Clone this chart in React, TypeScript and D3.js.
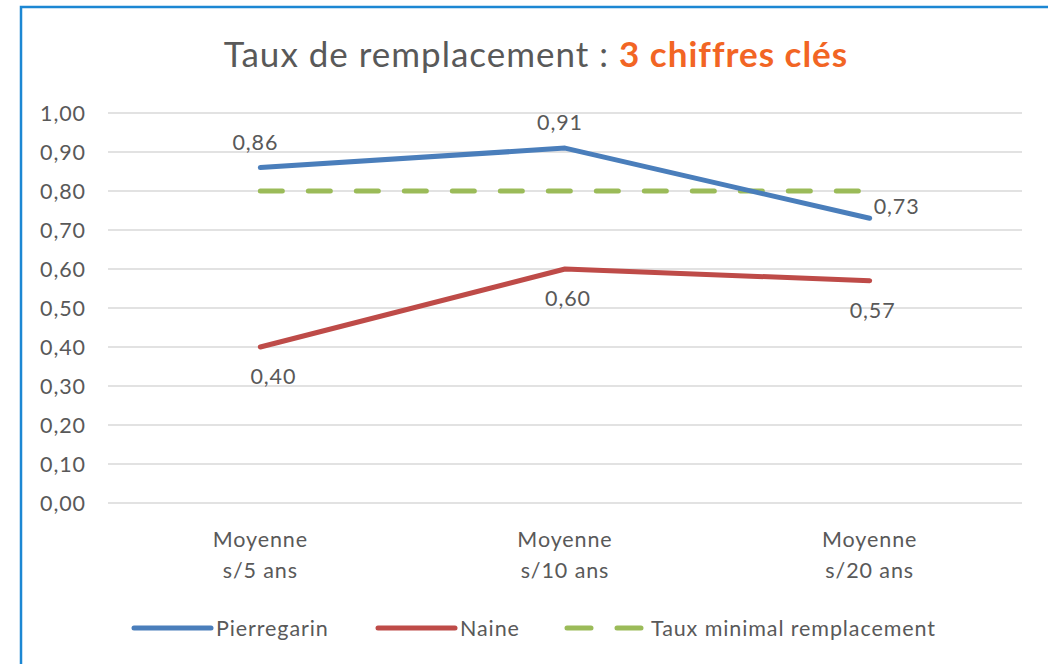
import { useEffect, useRef } from 'react'
import * as d3 from 'd3'

const categories = ['Moyenne\ns/5 ans', 'Moyenne\ns/10 ans', 'Moyenne\ns/20 ans']
const pierregarin = [0.86, 0.91, 0.73]
const naine = [0.4, 0.6, 0.57]
const tauxMinimal = [0.8, 0.8, 0.8]
const yTicks = [0, 0.1, 0.2, 0.3, 0.4, 0.5, 0.6, 0.7, 0.8, 0.9, 1.0]
const seriesNames = ['Pierregarin', 'Naine', 'Taux minimal remplacement']

const FONT = 'Lato, Carlito, Calibri, sans-serif'
const GRAY = '#595959'
const FS = '21.5px'
const LS = '0.9px'

export default function App() {
  const ref = useRef<SVGSVGElement>(null)

  useEffect(() => {
    if (!ref.current) return
    const svg = d3.select(ref.current)
    svg.selectAll('*').remove()

    const W = 1048
    const H = 664
    const margins = { top: 113, right: 26, bottom: 161, left: 108 }

    svg.append('rect').attr('width', W).attr('height', H).attr('fill', '#fff')

    // blue frame (top + left visible)
    svg
      .append('path')
      .attr('d', `M21,${H} V7 H${W}`)
      .attr('fill', 'none')
      .attr('stroke', '#1c87d3')
      .attr('stroke-width', 2.5)

    const x = d3
      .scaleBand<string>()
      .domain(categories)
      .range([margins.left, W - margins.right])
    const y = d3
      .scaleLinear()
      .domain([0, 1])
      .range([H - margins.bottom, margins.top])
    const cx = (i: number) => (x(categories[i]) ?? 0) + x.bandwidth() / 2

    // title
    const title = svg
      .append('text')
      .attr('x', 536)
      .attr('y', 67)
      .attr('text-anchor', 'middle')
      .style('font-family', FONT)
      .style('font-size', '35px')
      .style('letter-spacing', '1px')
    title.append('tspan').attr('fill', GRAY).text('Taux de remplacement  : ')
    title
      .append('tspan')
      .attr('fill', '#f26524')
      .attr('font-weight', 'bold')
      .text('3 chiffres clés')

    // gridlines
    svg
      .append('g')
      .selectAll('line')
      .data(yTicks)
      .enter()
      .append('line')
      .attr('x1', margins.left)
      .attr('x2', W - margins.right)
      .attr('y1', (d) => y(d))
      .attr('y2', (d) => y(d))
      .attr('stroke', '#d9d9d9')
      .attr('stroke-width', 1.5)

    const fmt = (v: number) => d3.format('.2f')(v).replace('.', ',')

    // y labels
    svg
      .append('g')
      .selectAll('text')
      .data(yTicks)
      .enter()
      .append('text')
      .attr('x', 86)
      .attr('y', (d) => y(d))
      .attr('dy', '0.35em')
      .attr('text-anchor', 'end')
      .attr('fill', GRAY)
      .style('font-family', FONT)
      .style('font-size', FS)
      .style('letter-spacing', LS)
      .text((d) => fmt(d))

    // x labels
    const xl = svg
      .append('g')
      .selectAll('text')
      .data(categories)
      .enter()
      .append('text')
      .attr('text-anchor', 'middle')
      .attr('fill', GRAY)
      .style('font-family', FONT)
      .style('font-size', FS)
      .style('letter-spacing', LS)
    xl.each(function (d) {
      const t = d3.select(this)
      d.split('\n').forEach((line, k) => {
        t.append('tspan')
          .attr('x', (x(d) ?? 0) + x.bandwidth() / 2)
          .attr('y', 547 + k * 31)
          .text(line)
      })
    })

    const line = d3
      .line<number>()
      .x((_, i) => cx(i))
      .y((d) => y(d))

    svg
      .append('path')
      .datum(tauxMinimal)
      .attr('d', line)
      .attr('fill', 'none')
      .attr('stroke', '#9bbb59')
      .attr('stroke-width', 5)
      .attr('stroke-linecap', 'round')
      .attr('stroke-dasharray', '22 26')

    svg
      .append('path')
      .datum(pierregarin)
      .attr('d', line)
      .attr('fill', 'none')
      .attr('stroke', '#4a7ebb')
      .attr('stroke-width', 5)
      .attr('stroke-linecap', 'round')
      .attr('stroke-linejoin', 'round')

    svg
      .append('path')
      .datum(naine)
      .attr('d', line)
      .attr('fill', 'none')
      .attr('stroke', '#be4b48')
      .attr('stroke-width', 5)
      .attr('stroke-linecap', 'round')
      .attr('stroke-linejoin', 'round')

    const labelStyle = (s: d3.Selection<SVGTextElement, number, SVGGElement, unknown>) =>
      s
        .attr('fill', GRAY)
        .style('font-family', FONT)
        .style('font-size', FS)
        .style('letter-spacing', LS)
        .text((d) => fmt(d))

    // Pierregarin labels: above, last one right
    svg
      .append('g')
      .selectAll('text')
      .data(pierregarin)
      .enter()
      .append('text')
      .attr('x', (_, i) => (i === 2 ? cx(i) + 4 : cx(i) - 5))
      .attr('y', (d, i) => (i === 2 ? y(d) - 4 : y(d) - 18))
      .attr('text-anchor', (_, i) => (i === 2 ? 'start' : 'middle'))
      .call(labelStyle)

    // Naine labels: below
    svg
      .append('g')
      .selectAll('text')
      .data(naine)
      .enter()
      .append('text')
      .attr('x', (_, i) => cx(i) + (i === 0 ? 13 : 3))
      .attr('y', (d) => y(d) + 37)
      .attr('text-anchor', 'middle')
      .call(labelStyle)

    // legend
    const legendColors = ['#4a7ebb', '#be4b48', '#9bbb59']
    const legendX = [134, 378, 567]
    const lg = svg
      .append('g')
      .selectAll('g')
      .data(seriesNames)
      .enter()
      .append('g')
      .attr('transform', (_, i) => `translate(${legendX[i]},628)`)
    lg.append('line')
      .attr('x1', 0)
      .attr('x2', 77)
      .attr('stroke', (_, i) => legendColors[i])
      .attr('stroke-width', 5)
      .attr('stroke-linecap', 'round')
      .attr('stroke-dasharray', (_, i) => (i === 2 ? '24 26' : null))
    lg.append('text')
      .attr('x', (_, i) => (i === 2 ? 84 : 82))
      .attr('dy', '0.35em')
      .attr('fill', GRAY)
      .style('font-family', FONT)
      .style('font-size', FS)
      .style('letter-spacing', LS)
      .text((d) => d)
  }, [])

  return (
    <svg
      ref={ref}
      width={1048}
      height={664}
      style={{ position: 'absolute', left: 0, top: 0 }}
    />
  )
}
